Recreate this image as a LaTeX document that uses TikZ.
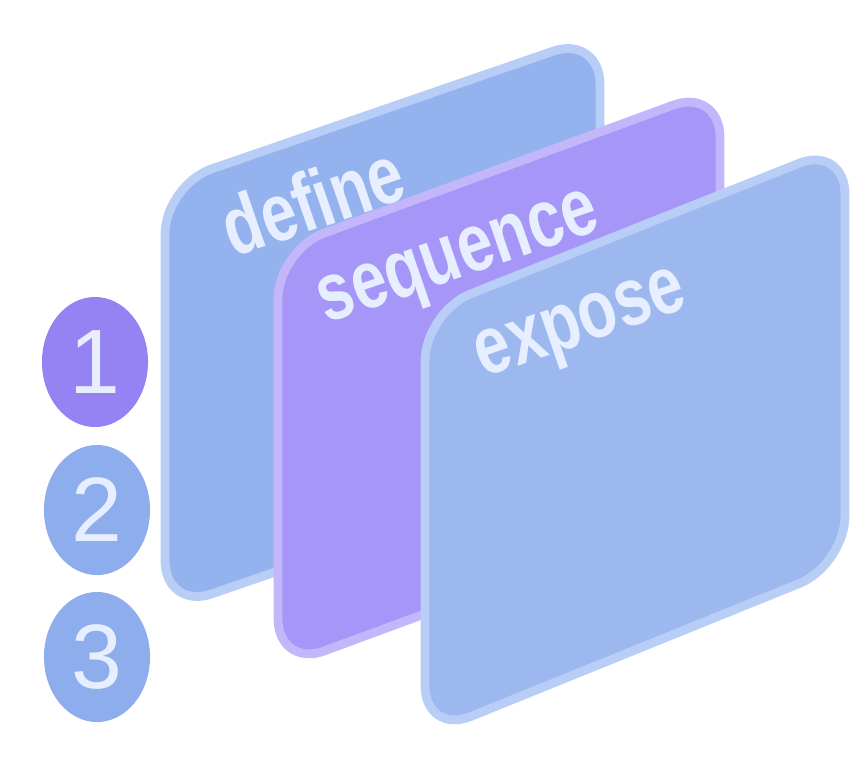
\documentclass[tikz,border=0pt]{standalone}
\usepackage{fontspec}
\setmainfont{Liberation Sans}
\usetikzlibrary{shapes.geometric}
\definecolor{panelblue}{HTML}{94B2EE}
\definecolor{panelpurple}{HTML}{A596F8}
\definecolor{edgeblue}{HTML}{B9CEF6}
\definecolor{edgepurple}{HTML}{C4B6FB}
\definecolor{labelwhite}{HTML}{E6EEFF}
\definecolor{stepblue}{HTML}{8EADEC}
\definecolor{steppurple}{HTML}{9583F4}
\tikzset{
  panel/.style={rounded corners=14pt, line width=2.5pt},
  word/.style={text=labelwhite, font=\bfseries\fontsize{18}{18}\selectfont, rotate=19, yscale=1.3, anchor=base west},
  stepdot/.style={ellipse, minimum width=1.06cm, minimum height=1.3cm, text=labelwhite,
    font=\fontsize{26}{26}\selectfont},
}
\begin{document}
\begin{tikzpicture}[x=0.01cm,y=-0.01cm]
\useasboundingbox (0,0) rectangle (867,776);

% panels, back to front
\filldraw [panel, fill=panelblue, draw=edgeblue] (165,185) -- (600,35) -- (600,460) -- (165,610) -- cycle;
\node [word] (define) at (222,262) {define};
\filldraw [panel, fill=panelpurple, draw=edgepurple] (278,250) -- (720,88) -- (720,505) -- (278,668) -- cycle;
\node [word] (sequence) at (315,328) {sequence};
\filldraw [panel, fill=panelblue!92!white, draw=edgeblue] (425,312) -- (845,145) -- (845,565) -- (425,735) -- cycle;
\node [word] (expose) at (472,382) {expose};

% steps
\node [stepdot, fill=steppurple] (s1) at (95,362) {1};
\node [stepdot, fill=stepblue] (s2) at (97,510) {2};
\node [stepdot, fill=stepblue] (s3) at (97,657) {3};
\end{tikzpicture}
\end{document}
